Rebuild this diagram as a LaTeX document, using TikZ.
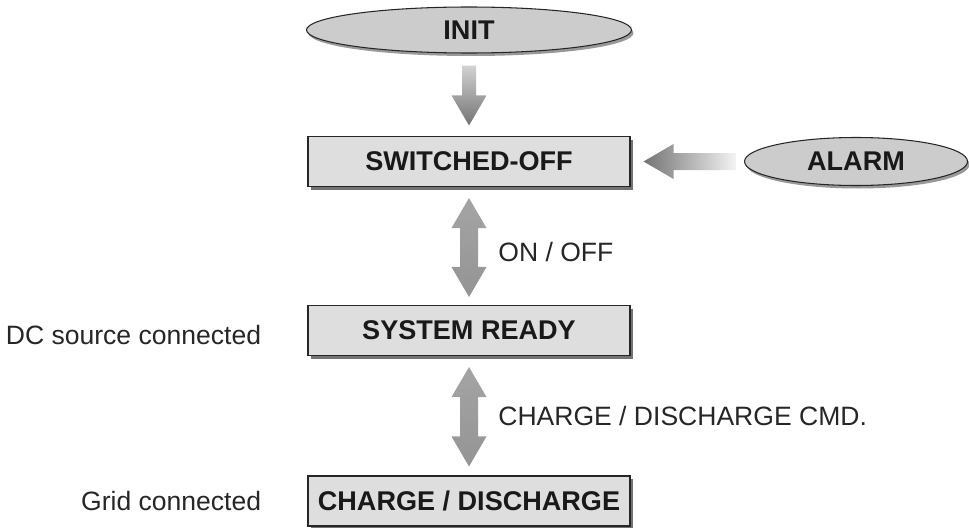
\documentclass[tikz,border=0pt]{standalone}
\usepackage{fontspec}
\setmainfont{Liberation Sans}
\usetikzlibrary{positioning,calc,shapes.geometric,shadows}

\tikzset{
  state/.style={rectangle, draw=black!85, line width=0.6pt, fill=black!13,
    minimum width=6.44cm, minimum height=1cm, inner sep=0pt, text=black!90,
    font=\bfseries\fontsize{15.4}{18}\selectfont,
    drop shadow={shadow xshift=0.06cm, shadow yshift=-0.06cm, fill=black!55, opacity=1}},
  event/.style={ellipse, draw=black!85, line width=0.6pt, fill=black!20,
    inner sep=0pt, text=black!90, font=\bfseries\fontsize{15.4}{18}\selectfont,
    drop shadow={shadow xshift=0.04cm, shadow yshift=-0.06cm, fill=black!40, opacity=1}},
  note/.style={inner sep=0pt, text=black!85, font=\fontsize{15.1}{18}\selectfont},
  % block arrow: gap at start, gap at end, half shaft width
  fat/.style n args={3}{to path={
    let \p1=($(\tikztostart)!#1!(\tikztotarget)$),
        \p2=($(\tikztotarget)!#2!(\tikztostart)$),
        \p3=($(\p2)!0.6cm!(\p1)$) in
    ($(\p1)!#3!90:(\p2)$) -- ($(\p3)!#3!90:(\p2)$) -- ($(\p3)!0.35cm!90:(\p2)$)
    -- (\p2) -- ($(\p3)!0.35cm!-90:(\p2)$) -- ($(\p3)!#3!-90:(\p2)$)
    -- ($(\p1)!#3!-90:(\p2)$) -- cycle}},
  % same with a head at both ends
  dfat/.style n args={3}{to path={
    let \p1=($(\tikztostart)!#1!(\tikztotarget)$),
        \p2=($(\tikztotarget)!#2!(\tikztostart)$),
        \p3=($(\p2)!0.6cm!(\p1)$),
        \p4=($(\p1)!0.6cm!(\p2)$) in
    (\p1) -- ($(\p4)!0.35cm!90:(\p2)$) -- ($(\p4)!#3!90:(\p2)$)
    -- ($(\p3)!#3!90:(\p2)$) -- ($(\p3)!0.35cm!90:(\p2)$) -- (\p2)
    -- ($(\p3)!0.35cm!-90:(\p2)$) -- ($(\p3)!#3!-90:(\p2)$)
    -- ($(\p4)!#3!-90:(\p2)$) -- ($(\p4)!0.35cm!-90:(\p2)$) -- cycle}}
}

\begin{document}
\begin{tikzpicture}
  \useasboundingbox (0,0) rectangle (19.38,-10.54);

  \node[event, minimum width=6.5cm, minimum height=0.92cm] (init) at (9.38,-0.6) {INIT};
  \node[state] (off) [below of=init, node distance=2.63cm] {SWITCHED-OFF};
  \node[state] (ready) [below of=off, node distance=3.38cm] {SYSTEM READY};
  \node[state] (charge) [below of=ready, node distance=3.41cm] {CHARGE / DISCHARGE};
  \node[event, minimum width=4.46cm, minimum height=0.96cm] (alarm) [right of=off, node distance=7.74cm] {ALARM};

  \node[note, left=0.92cm of ready, yshift=-0.09cm] (dc) {DC source connected};
  \node[note, left=0.92cm of charge] (grid) {Grid connected};
  \node[note, anchor=west] (onoff) at ($(off.south)!0.5!(ready.north)+(0.58,-0.12)$) {ON / OFF};
  \node[note, anchor=west] (cmd) at ($(ready.south)!0.5!(charge.north)+(0.58,0)$) {CHARGE / DISCHARGE CMD.};

  \path[fat={0.24cm}{0.21cm}{0.14cm}, top color=black!10, bottom color=black!55] (init.south) to (off.north);
  \path[fat={0.16cm}{0.26cm}{0.17cm}, left color=black!55, right color=white] (alarm.west) to (off.east);
  \path[dfat={0.22cm}{0.16cm}{0.18cm}, top color=black!35, middle color=white, bottom color=black!42] (off.south) to (ready.north);
  \path[dfat={0.22cm}{0.18cm}{0.18cm}, top color=black!35, middle color=white, bottom color=black!42] (ready.south) to (charge.north);
\end{tikzpicture}
\end{document}
